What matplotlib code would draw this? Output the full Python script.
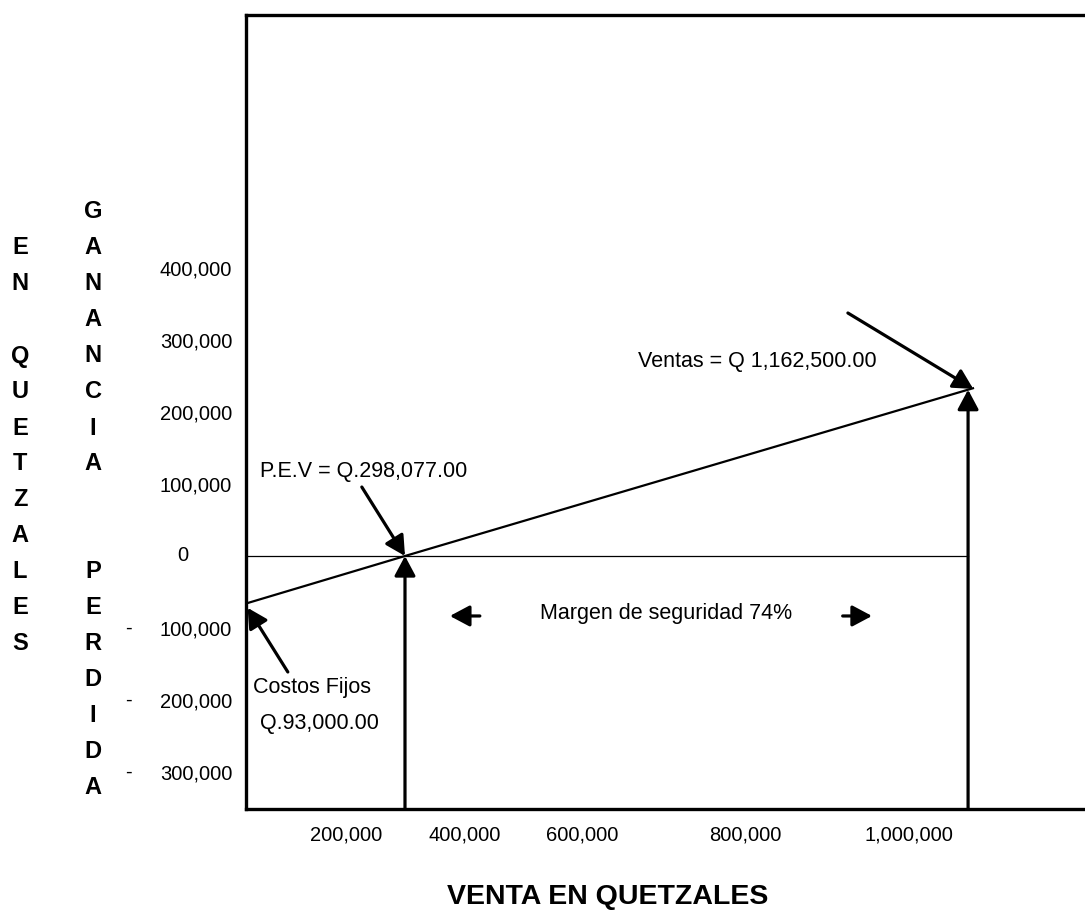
import matplotlib
matplotlib.use("Agg")
import matplotlib.pyplot as plt
from matplotlib.transforms import blended_transform_factory

plt.rcParams['font.family'] = ['Liberation Sans', 'DejaVu Sans']

# ---------------- data ----------------
pev = 298077            # punto de equilibrio en ventas
ventas = 1162500        # ventas totales
costos_fijos = 93000
linea_x = [54000, pev, 1170000]          # recta de utilidad
linea_y = [-66000, 0, 233000]
ventas_y = 231000                        # altura de la recta en ventas
y_ticks = [400000, 300000, 200000, 100000, -100000, -200000, -300000]
y_labels = ["400,000", "300,000", "200,000", "100,000", "100,000", "200,000", "300,000"]
x_tick_labels = ["200,000", "400,000", "600,000", "800,000", "1,000,000"]
x_tick_pos = [207000, 390000, 570000, 821000, 1072000]
col1 = ["", "E", "N", "", "Q", "U", "E", "T", "Z", "A", "L", "E", "S"]
col2 = ["G", "A", "N", "A", "N", "C", "I", "A", "", "", "P", "E", "R", "D", "I", "D", "A"]

W, H = 1085, 914
fig = plt.figure(figsize=(W / 100, H / 100), dpi=100)
ax = fig.add_axes([246 / W, (H - 809) / H, (W - 246) / W, (809 - 15) / H])
xmin, xmax = 54000, 1342000
ymin, ymax = -351400, 751400
ax.set_xlim(xmin, xmax)
ax.set_ylim(ymin, ymax)

for s in ['left', 'bottom', 'top']:
    ax.spines[s].set_linewidth(2.4)
ax.spines['right'].set_visible(False)

ax.set_yticks(y_ticks)
ax.set_yticklabels(y_labels)
ax.set_xticks(x_tick_pos)
ax.set_xticklabels(x_tick_labels)
ax.tick_params(axis='both', length=0, labelsize=14.5)
ax.tick_params(axis='y', pad=10)
ax.tick_params(axis='x', pad=12)

bt = blended_transform_factory(ax.transAxes, ax.transData)
ax.text((183 - 246) / 839, 0, "0", transform=bt, ha='center', va='center', fontsize=14.5)
for v in y_ticks:
    if v < 0:
        ax.text((128 - 246) / 839, v, "-", transform=bt, ha='center', va='center', fontsize=14.5)

# zero line and profit line
ax.plot([xmin, ventas], [0, 0], color='black', lw=0.9)
ax.plot(linea_x, linea_y, color='black', lw=1.6)

ap = dict(arrowstyle='-|>,head_length=0.75,head_width=0.4', lw=2.3, color='black',
          shrinkA=0, shrinkB=0, mutation_scale=16)

# vertical arrows
ax.annotate("", xy=(pev, 0), xytext=(pev, ymin), arrowprops=ap, annotation_clip=False)
ax.annotate("", xy=(ventas, ventas_y), xytext=(ventas, ymin), arrowprops=ap, annotation_clip=False)

# labels with arrows
ax.annotate("", xy=(pev, 0), xytext=(231800, 95800), arrowprops=ap)
ax.text(75200, 116700, "P.E.V = Q.298,077.00", ha='left', va='center', fontsize=15.5)

ax.annotate("", xy=(linea_x[0] + 2500, linea_y[0] - 6000), xytext=(118200, -161100), arrowprops=ap)
ax.text(64500, -182000, "Costos Fijos", ha='left', va='center', fontsize=15.5)
ax.text(75200, -232000, "Q.93,000.00", ha='left', va='center', fontsize=15.5)

ax.annotate("", xy=(ventas + 8000, ventas_y + 1000), xytext=(978000, 337500), arrowprops=ap)
ax.text(655600, 270800, "Ventas = Q 1,162,500.00", ha='left', va='center', fontsize=15.5)

ax.text(698600, -80500, "Margen de seguridad 74%", ha='center', va='center', fontsize=15.5)
ax.annotate("", xy=(367000, -83300), xytext=(413000, -83300), arrowprops=ap)
ax.annotate("", xy=(1015000, -83300), xytext=(970000, -83300), arrowprops=ap)

# axis title
fig.text(608 / W, 1 - 897 / H, "VENTA EN QUETZALES", ha='center', va='center',
         fontsize=20.5, fontweight='bold')

# vertical stacked labels
for r, ch in enumerate(col1):
    if ch:
        fig.text(20 / W, 1 - (212 + 36 * r) / H, ch, ha='center', va='center',
                 fontsize=17, fontweight='bold')
for r, ch in enumerate(col2):
    if ch:
        fig.text(93 / W, 1 - (212 + 36 * r) / H, ch, ha='center', va='center',
                 fontsize=17, fontweight='bold')

fig.savefig("out.png", dpi=100)
